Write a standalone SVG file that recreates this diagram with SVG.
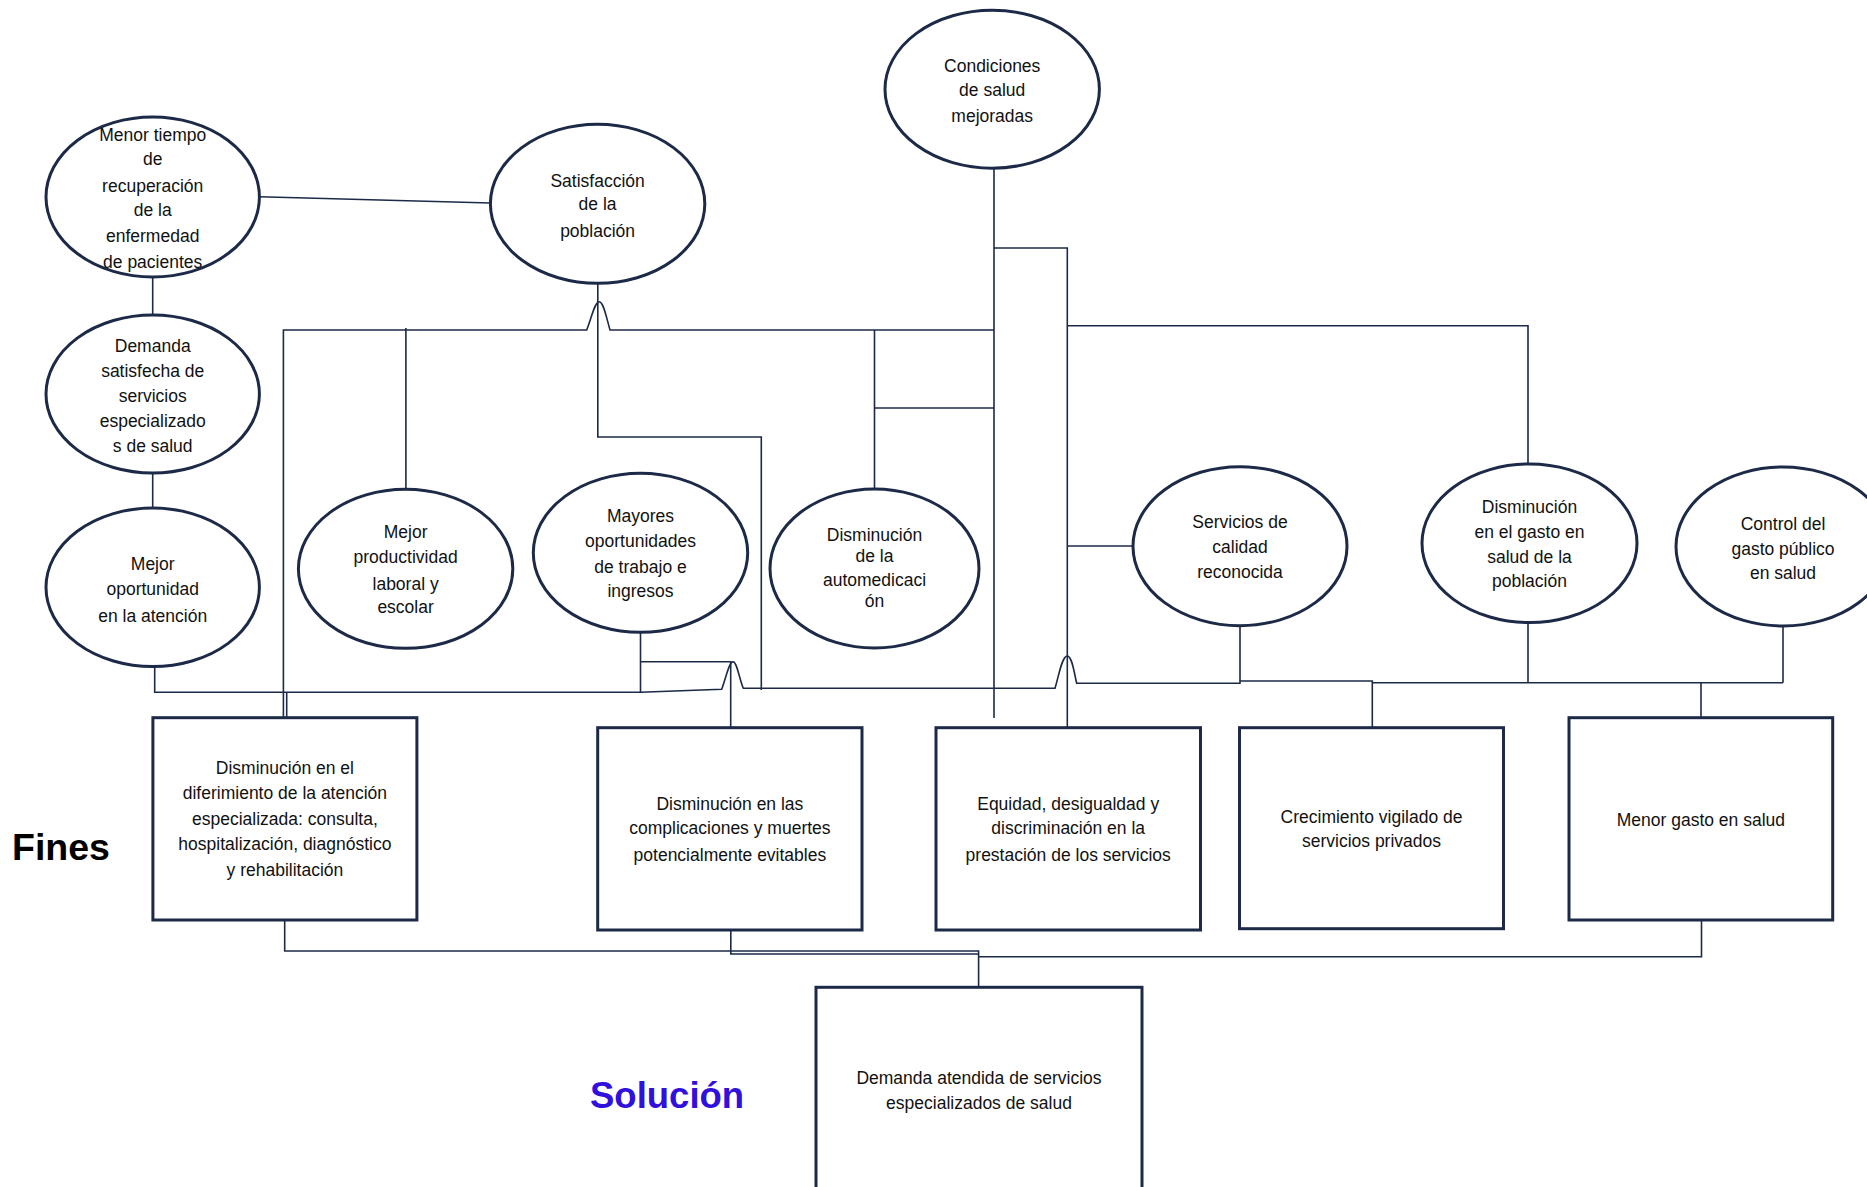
<svg xmlns="http://www.w3.org/2000/svg" width="1867" height="1187" viewBox="0 0 1867 1187">
<style>
.n{fill:#fff;stroke:#1c2a48;stroke-width:3}
.c{fill:none;stroke:#1c2a48;stroke-width:1.6}
text{font-family:"Liberation Sans",Arial,sans-serif;font-size:17.5px;fill:#111;text-anchor:middle}
.lbl{font-size:37.5px;font-weight:bold;text-anchor:start}
</style>
<rect width="1867" height="1187" fill="#fff"/>
<g id="connectors">
<path class="c" d="M259.5,196.7 L490.4,203"/>
<path class="c" d="M152.7,277 V315"/>
<path class="c" d="M152.7,473 V508"/>
<path class="c" d="M283.4,718 V330 H586.7 C592,316 595,301.5 599.3,301.7 C603.5,302 606,316 610,330 H994"/>
<path class="c" d="M405.9,328 V489.3"/>
<path class="c" d="M597.8,283.3 V437 H761.3 V690"/>
<path class="c" d="M994,168.3 V718"/>
<path class="c" d="M874.5,330 V489"/>
<path class="c" d="M874.5,408 H994"/>
<path class="c" d="M994,248 H1067.3 V727.7"/>
<path class="c" d="M1067.3,325.7 H1528 V464"/>
<path class="c" d="M1067.3,546 H1133"/>
<path class="c" d="M154.7,666.7 V692.3 H640.5 L721.7,689.3 C726,678 729,661.7 733,661.7 C737,662 739,678 743.3,688.3 H1055 C1059,675 1062,656 1067.3,656 C1072,656 1074,672 1076.7,683.3 H1240 V625.7"/>
<path class="c" d="M286.7,692.3 V718"/>
<path class="c" d="M640.5,632.3 V692.3"/>
<path class="c" d="M640.5,661.7 H730.7 V727.7"/>
<path class="c" d="M1240,681 H1372.3 V727.7"/>
<path class="c" d="M1372.3,682.7 H1783"/>
<path class="c" d="M1528,622.7 V682.7"/>
<path class="c" d="M1783,625.7 V682.7"/>
<path class="c" d="M1701,682.7 V717.7"/>
<path class="c" d="M284.7,920 V951 H978.6 V987.3"/>
<path class="c" d="M730.8,930 V954 H978.6"/>
<path class="c" d="M1701.5,920 V956.7 H978.6"/>
</g>
<g id="n-menor-tiempo">
<ellipse class="n" cx="152.7" cy="197" rx="106.7" ry="80"/>
<text x="152.7" y="141">Menor tiempo</text>
<text x="152.7" y="165">de</text>
<text x="152.7" y="192">recuperación</text>
<text x="152.7" y="216">de la</text>
<text x="152.7" y="242">enfermedad</text>
<text x="152.7" y="268">de pacientes</text>
</g>
<g id="n-satisfaccion">
<ellipse class="n" cx="597.6" cy="203.8" rx="107.2" ry="79.5"/>
<text x="597.6" y="186.5">Satisfacción</text>
<text x="597.6" y="210">de la</text>
<text x="597.6" y="236.5">población</text>
</g>
<g id="n-condiciones">
<ellipse class="n" cx="992.2" cy="89.2" rx="107.2" ry="79"/>
<text x="992.2" y="72">Condiciones</text>
<text x="992.2" y="96">de salud</text>
<text x="992.2" y="121.5">mejoradas</text>
</g>
<g id="n-demanda-satisfecha">
<ellipse class="n" cx="152.7" cy="394" rx="106.7" ry="79"/>
<text x="152.7" y="351.7">Demanda</text>
<text x="152.7" y="376.7">satisfecha de</text>
<text x="152.7" y="401.7">servicios</text>
<text x="152.7" y="426.7">especializado</text>
<text x="152.7" y="451.7">s de salud</text>
</g>
<g id="n-mejor-oportunidad">
<ellipse class="n" cx="152.7" cy="587.3" rx="106.7" ry="79.3"/>
<text x="152.7" y="570">Mejor</text>
<text x="152.7" y="595">oportunidad</text>
<text x="152.7" y="621.7">en la atención</text>
</g>
<g id="n-mejor-productividad">
<ellipse class="n" cx="405.6" cy="568.8" rx="107.2" ry="79.5"/>
<text x="405.6" y="538.3">Mejor</text>
<text x="405.6" y="563.3">productividad</text>
<text x="405.6" y="590">laboral y</text>
<text x="405.6" y="613.3">escolar</text>
</g>
<g id="n-mayores-oportunidades">
<ellipse class="n" cx="640.5" cy="552.8" rx="107.2" ry="79.5"/>
<text x="640.5" y="521.7">Mayores</text>
<text x="640.5" y="546.7">oportunidades</text>
<text x="640.5" y="573.3">de trabajo e</text>
<text x="640.5" y="596.7">ingresos</text>
</g>
<g id="n-automedicacion">
<ellipse class="n" cx="874.5" cy="568.5" rx="104.5" ry="79.5"/>
<text x="874.5" y="541">Disminución</text>
<text x="874.5" y="562">de la</text>
<text x="874.5" y="586">automedicaci</text>
<text x="874.5" y="607">ón</text>
</g>
<g id="n-servicios-calidad">
<ellipse class="n" cx="1240" cy="546.2" rx="107" ry="79.5"/>
<text x="1240" y="528.3">Servicios de</text>
<text x="1240" y="553.3">calidad</text>
<text x="1240" y="578.3">reconocida</text>
</g>
<g id="n-disminucion-gasto">
<ellipse class="n" cx="1529.5" cy="543.3" rx="107.5" ry="79.3"/>
<text x="1529.5" y="513.3">Disminución</text>
<text x="1529.5" y="538.3">en el gasto en</text>
<text x="1529.5" y="563.3">salud de la</text>
<text x="1529.5" y="586.7">población</text>
</g>
<g id="n-control-gasto">
<ellipse class="n" cx="1783" cy="546.5" rx="107" ry="79.5"/>
<text x="1783" y="530">Control del</text>
<text x="1783" y="555">gasto público</text>
<text x="1783" y="579.3">en salud</text>
</g>
<g id="n-diferimiento">
<rect class="n" x="152.9" y="717.7" width="264" height="202.3"/>
<text x="284.9" y="774">Disminución en el</text>
<text x="284.9" y="799">diferimiento de la atención</text>
<text x="284.9" y="825">especializada: consulta,</text>
<text x="284.9" y="850">hospitalización, diagnóstico</text>
<text x="284.9" y="876">y rehabilitación</text>
</g>
<g id="n-complicaciones">
<rect class="n" x="597.7" y="727.7" width="264.3" height="202.3"/>
<text x="729.9" y="810">Disminución en las</text>
<text x="729.9" y="834">complicaciones y muertes</text>
<text x="729.9" y="860.5">potencialmente evitables</text>
</g>
<g id="n-equidad">
<rect class="n" x="936" y="727.7" width="264.5" height="202.3"/>
<text x="1068.2" y="810">Equidad, desigualdad y</text>
<text x="1068.2" y="834">discriminación en la</text>
<text x="1068.2" y="860.5">prestación de los servicios</text>
</g>
<g id="n-crecimiento">
<rect class="n" x="1239.5" y="727.7" width="264" height="201"/>
<text x="1371.5" y="823">Crecimiento vigilado de</text>
<text x="1371.5" y="847">servicios privados</text>
</g>
<g id="n-menor-gasto">
<rect class="n" x="1569" y="717.7" width="263.7" height="202.3"/>
<text x="1700.9" y="826">Menor gasto en salud</text>
</g>
<g id="n-demanda-atendida">
<rect class="n" x="816" y="987.3" width="326" height="230"/>
<text x="979" y="1084">Demanda atendida de servicios</text>
<text x="979" y="1109">especializados de salud</text>
</g>
<g id="labels">
<text class="lbl" x="12" y="860" style="fill:#000">Fines</text>
<text class="lbl" x="590" y="1108" style="fill:#3010dc;font-size:36.5px">Solución</text>
</g>
</svg>
